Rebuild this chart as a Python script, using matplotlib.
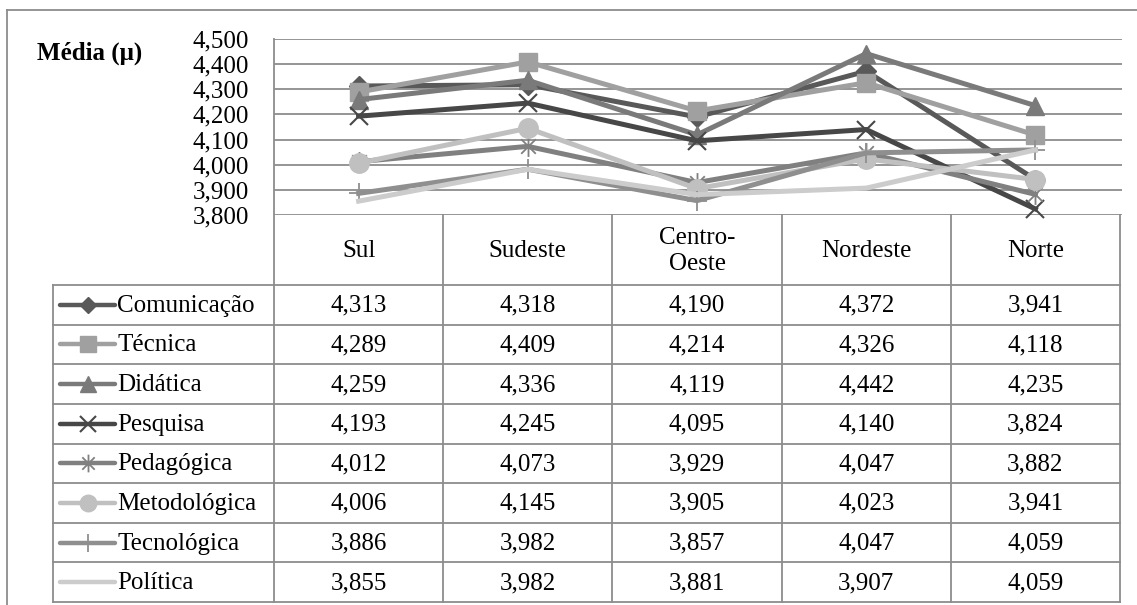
import numpy as np
import matplotlib
matplotlib.use("Agg")
import matplotlib.pyplot as plt
from matplotlib.path import Path
from matplotlib.ticker import FuncFormatter, MultipleLocator

plt.rcParams['font.family'] = ['Liberation Serif', 'DejaVu Serif']

regioes = ["Sul", "Sudeste", "Centro-\nOeste", "Nordeste", "Norte"]
series = ["Comunicação", "Técnica", "Didática", "Pesquisa",
          "Pedagógica", "Metodológica", "Tecnológica", "Política"]
comunicacao = [4.313, 4.318, 4.190, 4.372, 3.941]
tecnica = [4.289, 4.409, 4.214, 4.326, 4.118]
didatica = [4.259, 4.336, 4.119, 4.442, 4.235]
pesquisa = [4.193, 4.245, 4.095, 4.140, 3.824]
pedagogica = [4.012, 4.073, 3.929, 4.047, 3.882]
metodologica = [4.006, 4.145, 3.905, 4.023, 3.941]
tecnologica = [3.886, 3.982, 3.857, 4.047, 4.059]
politica = [3.855, 3.982, 3.881, 3.907, 4.059]
valores = [comunicacao, tecnica, didatica, pesquisa,
           pedagogica, metodologica, tecnologica, politica]

# excel-like grey styles
asterisk = Path([(0, -1), (0, 1), (-0.7, -0.7), (0.7, 0.7), (-0.7, 0.7), (0.7, -0.7)],
                [Path.MOVETO, Path.LINETO, Path.MOVETO, Path.LINETO, Path.MOVETO, Path.LINETO])
estilos = [
    dict(color="#595959", marker="D", ms=10),
    dict(color="#a0a0a0", marker="s", ms=13),
    dict(color="#7a7a7a", marker="^", ms=13),
    dict(color="#474747", marker="x", ms=13, mew=1.5),
    dict(color="#808080", marker=asterisk, ms=15, mew=1.3),
    dict(color="#c0c0c0", marker="o", ms=14),
    dict(color="#8f8f8f", marker="+", ms=15, mew=1.3),
    dict(color="#cccccc", marker=None, ms=0),
]

W, H = 1137, 605
fig = plt.figure(figsize=(W / 100, H / 100), dpi=100)
grid_c = "#8c8c8c"

# pixel layout
x0, x1 = 274, 1120
y_top, y_bot = 39, 215
hdr_bot = 285
tab_bot = 602
leg_left = 53
fs = 18


def fx(px):
    return px / W


def fy(py):
    return 1 - py / H


# table / frame overlay in pixel coords
tab = fig.add_axes([0, 0, 1, 1], zorder=1)
tab.set_xlim(0, W)
tab.set_ylim(H, 0)
tab.axis("off")

lw = 1.3
tab.plot([7, W], [10, 10], color=grid_c, lw=lw)
tab.plot([7, 7], [10, H], color=grid_c, lw=lw)

cols = np.linspace(x0, x1, len(regioes) + 1)
row_h = (tab_bot - hdr_bot) / len(series)
rows = hdr_bot + row_h * np.arange(len(series) + 1)

tab.plot([x0, x0], [y_top, tab_bot], color=grid_c, lw=lw)
for cx in cols[1:]:
    tab.plot([cx, cx], [y_bot, tab_bot], color=grid_c, lw=lw)
tab.plot([leg_left, leg_left], [hdr_bot, tab_bot], color=grid_c, lw=lw)
for ry in rows:
    tab.plot([leg_left, x1], [ry, ry], color=grid_c, lw=lw)

for j, reg in enumerate(regioes):
    tab.text((cols[j] + cols[j + 1]) / 2, (y_bot + hdr_bot) / 2 + 1, reg,
             ha="center", va="center", fontsize=fs, linespacing=1.25)

for i, (nome, vals, st) in enumerate(zip(series, valores, estilos)):
    yc = (rows[i] + rows[i + 1]) / 2
    tab.plot([60, 115], [yc, yc], color=st["color"], lw=3.2,
             solid_capstyle="round")
    if st["marker"] is not None:
        tab.plot([87.5], [yc], color=st["color"], marker=st["marker"],
                 ms=st["ms"] * 0.85, mew=st.get("mew", 1), ls="none")
    tab.text(117, yc + 1, nome, ha="left", va="center", fontsize=fs)
    for j, v in enumerate(vals):
        tab.text((cols[j] + cols[j + 1]) / 2, yc + 1,
                 f"{v:.3f}".replace(".", ","),
                 ha="center", va="center", fontsize=fs)

tab.text(37, 53, "Média (μ)", ha="left", va="center", fontsize=fs,
         fontweight="bold")

# chart
ax = fig.add_axes([fx(x0), fy(y_bot), fx(x1 + 2) - fx(x0), fy(y_top) - fy(y_bot)],
                  zorder=2)
ax.patch.set_alpha(0)
xs = np.arange(len(regioes))
for nome, vals, st in zip(series, valores, estilos):
    ax.plot(xs, vals, color=st["color"], lw=3.6, marker=st["marker"],
            ms=st["ms"], mew=st.get("mew", 1), clip_on=False,
            solid_joinstyle="miter")

ax.set_xlim(-0.5, len(regioes) - 0.5 + 2 / 846 * 5)
ax.set_ylim(3.8, 4.5)
ax.yaxis.set_major_locator(MultipleLocator(0.1))
ax.yaxis.set_major_formatter(FuncFormatter(lambda v, p: f"{v:.3f}".replace(".", ",")))
ax.grid(axis="y", color=grid_c, lw=1.3)
ax.set_axisbelow(True)
ax.set_xticks([])
ax.tick_params(axis="y", length=0, pad=18, labelsize=fs)
for s in ax.spines.values():
    s.set_visible(False)

fig.savefig("out.png", dpi=100)
